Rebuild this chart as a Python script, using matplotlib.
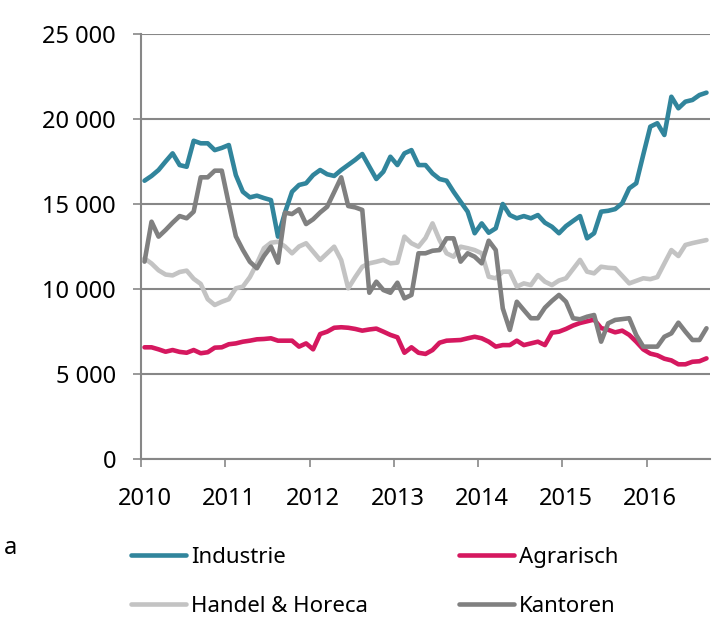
import matplotlib
matplotlib.use("Agg")
import matplotlib.pyplot as plt
from matplotlib.ticker import FuncFormatter

plt.rcParams['font.family'] = ['Noto Sans', 'DejaVu Sans']

# monthly values, Jan 2010 .. Sep 2016
years = ["2010", "2011", "2012", "2013", "2014", "2015", "2016"]

industrie = [
    16370, 16650, 17000, 17500, 17980, 17290, 17190, 18720, 18570, 18570,
    18170, 18300, 18470, 16700, 15720, 15390, 15490, 15350, 15230, 13080,
    14500, 15720, 16120, 16220, 16700, 17000, 16750, 16650, 17000, 17300,
    17600, 17940, 17200, 16470, 16900, 17780, 17290, 17980, 18170, 17290,
    17290, 16800, 16470, 16370, 15720, 15130, 14550, 13280, 13860, 13310,
    13570, 15000, 14350, 14160, 14290, 14160, 14350, 13900, 13660, 13280,
    13700, 14000, 14290, 12980, 13280, 14550, 14600, 14700, 15040, 15920,
    16220, 17900, 19550, 19750, 19060, 21310, 20630, 21020, 21120, 21410,
    21550,
]

agrarisch = [
    6570, 6570, 6450, 6310, 6410, 6300, 6250, 6410, 6220, 6280,
    6550, 6570, 6750, 6800, 6900, 6960, 7040, 7060, 7100, 6960,
    6960, 6960, 6610, 6800, 6450, 7350, 7490, 7720, 7750, 7720,
    7650, 7550, 7620, 7670, 7490, 7300, 7160, 6250, 6570, 6250,
    6180, 6410, 6840, 6960, 6980, 7000, 7100, 7190, 7100, 6900,
    6610, 6700, 6700, 6960, 6700, 6800, 6900, 6700, 7430, 7490,
    7650, 7850, 8000, 8100, 8200, 7700, 7600, 7450, 7550, 7300,
    6900, 6450, 6200, 6100, 5900, 5800, 5570, 5570, 5720, 5750,
    5920,
]

handel_horeca = [
    11800, 11500, 11100, 10850, 10800, 11000, 11080, 10600, 10300, 9400,
    9060, 9250, 9400, 10040, 10140, 10700, 11500, 12400, 12720, 12780,
    12500, 12100, 12500, 12690, 12200, 11710, 12100, 12490, 11700, 10040,
    10700, 11310, 11510, 11600, 11710, 11510, 11550, 13080, 12690, 12490,
    13000, 13860, 12880, 12100, 11900, 12490, 12400, 12290, 12100, 10720,
    10630, 11020, 11020, 10140, 10330, 10230, 10820, 10430, 10230, 10500,
    10630, 11170, 11710, 11020, 10920, 11310, 11250, 11220, 10780, 10330,
    10480, 10630, 10580, 10700, 11500, 12290, 11940, 12590, 12700, 12790,
    12880,
]

kantoren = [
    11610, 13960, 13080, 13470, 13900, 14290, 14160, 14550, 16570, 16570,
    16960, 16960, 15000, 13100, 12300, 11600, 11220, 11940, 12490, 11550,
    14490, 14410, 14690, 13820, 14100, 14500, 14840, 15700, 16570, 14880,
    14800, 14650, 9780, 10430, 9940, 9780, 10370, 9450, 9650, 12100,
    12100, 12250, 12290, 12980, 12980, 11610, 12100, 11900, 11510, 12840,
    12290, 8860, 7590, 9250, 8760, 8280, 8280, 8900, 9300, 9650,
    9250, 8280, 8220, 8370, 8470, 6900, 7980, 8180, 8230, 8280,
    7290, 6610, 6610, 6610, 7190, 7390, 8020, 7490, 7000, 7000,
    7690,
]

series = [
    ("Industrie", industrie, "#31859c"),
    ("Agrarisch", agrarisch, "#d5185f"),
    ("Handel & Horeca", handel_horeca, "#c3c3c3"),
    ("Kantoren", kantoren, "#808080"),
]

fig = plt.figure(figsize=(7.2, 6.19), dpi=100)
ax = fig.add_axes([141 / 720, 1 - 459 / 619, 569 / 720, 425 / 619])

x = list(range(len(industrie)))
lines = {}
for name, vals, color in series:
    ln, = ax.plot(x, vals, color=color, lw=3.3, label=name,
                  solid_joinstyle="round", solid_capstyle="round")
    lines[name] = ln

ax.set_xlim(-0.5, len(x) - 0.5)
ax.set_ylim(0, 25000)
ax.set_yticks(range(0, 25001, 5000))
ax.yaxis.set_major_formatter(FuncFormatter(lambda v, p: f"{int(v):,}".replace(",", " ")))
ax.grid(axis="y", color="#878787", lw=1.5)
ax.set_axisbelow(True)

# year boundaries get the tick marks, year labels sit on the January point
ax.set_xticks([12 * k - 0.5 for k in range(len(years))])
ax.set_xticklabels([])
ax.set_xticks([12 * k for k in range(len(years))], minor=True)
ax.set_xticklabels(years, minor=True)
ax.tick_params(axis="x", which="major", length=6, width=1.2, color="#878787")
ax.tick_params(axis="x", which="minor", length=0, pad=20, labelsize=17)
ax.tick_params(axis="y", length=6, width=1.2, color="#878787", pad=12, labelsize=17)

for side in ("top", "right"):
    ax.spines[side].set_visible(False)
for side in ("left", "bottom"):
    ax.spines[side].set_color("#878787")
    ax.spines[side].set_linewidth(1.5)

order = ["Industrie", "Handel & Horeca", "Agrarisch", "Kantoren"]
fig.legend([lines[n] for n in order], order, loc="upper left",
           bbox_to_anchor=(122 / 720, 1 - 538 / 619), ncol=2, frameon=False,
           fontsize=16, handlelength=2.5, handletextpad=0.2,
           columnspacing=4.1, labelspacing=1.25, borderaxespad=0)

fig.text(4 / 720, 1 - 548 / 619, "a", fontsize=17, va="center")

fig.savefig("out.png", dpi=100)
plt.close(fig)
